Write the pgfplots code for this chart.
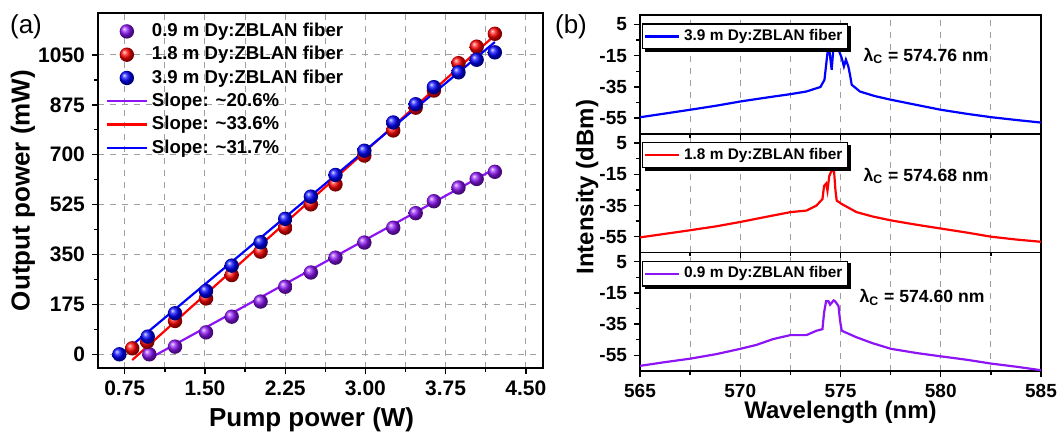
\documentclass[border=0pt]{standalone}
\usepackage{fontspec}
\setmainfont{Liberation Sans}
\usepackage{pgfplots}
\pgfplotsset{compat=1.18}
\definecolor{dypurple}{RGB}{140,20,245}

\begin{document}
\begin{tikzpicture}
\useasboundingbox (0,0) rectangle (529.5pt,217pt);
\pgfplotsset{
  every axis/.append style={
    scale only axis,
    axis line style={line width=0.8pt},
    tick style={line width=0.7pt, black},
    tick align=outside, tick pos=left,
    major tick length=3pt, minor tick length=2pt,
    /pgf/number format/assume math mode=true,
    /pgf/number format/1000 sep={},
  },
  lg/.style={legend image code/.code={
    \draw[mark repeat=2,mark phase=2,##1] plot coordinates {(0pt,0pt) (10pt,0pt) (20pt,0pt)};}},
  bm/.style={only marks, mark=ball, mark size=3.6pt, ball color=#1, mark options={draw opacity=0}},
}

% (a) output power vs pump power
\begin{axis}[
  at={(49pt,33pt)}, anchor=south west,
  width=222.5pt, height=177.5pt,
  xmin=0.5, xmax=4.66, ymin=-48, ymax=1197,
  xtick={0.75,1.5,2.25,3,3.75,4.5}, minor x tick num=1,
  ytick={0,175,350,525,700,875,1050}, minor y tick num=1,
  xticklabel style={/pgf/number format/fixed, /pgf/number format/fixed zerofill, /pgf/number format/precision=2},
  yticklabel style={/pgf/number format/fixed},
  tick label style={font=\fontsize{10.5}{12}\selectfont\bfseries},
  xminorgrids, xmajorgrids, ymajorgrids,
  grid style={dashed, gray!75, line width=0.5pt},
  minor grid style={dashed, gray!75, line width=0.5pt},
  xlabel={Pump power (W)}, ylabel={Output power (mW)},
  label style={font=\fontsize{13}{15}\selectfont\bfseries},
  xlabel style={at={(axis description cs:0.48,-0.146)}, anchor=center},
  ylabel style={at={(axis description cs:-0.169,0.5)}, anchor=center},
  lg,
  legend cell align=left,
  legend style={at={(axis description cs:0.003,0.995)}, anchor=north west,
    draw=none, fill=none, font=\fontsize{9.3}{11}\selectfont\bfseries,
    row sep=-0.6pt},
]
\addplot[bm=dypurple] coordinates {
 (0.98,0) (1.22,27) (1.51,77) (1.75,132) (2.02,185) (2.25,237) (2.49,287)
 (2.72,339) (2.99,392) (3.26,444) (3.47,495) (3.64,537) (3.87,585) (4.04,615) (4.21,640)};
\addlegendentry{0.9 m Dy:ZBLAN fiber}
\addplot[bm=red] coordinates {
 (0.82,21) (0.96,44) (1.22,117) (1.51,196) (1.75,278) (2.02,360) (2.25,444)
 (2.49,526) (2.72,596) (2.99,697) (3.26,785) (3.47,865) (3.64,925) (3.87,1021) (4.04,1079) (4.21,1124)};
\addlegendentry{1.8 m Dy:ZBLAN fiber}
\addplot[bm=blue] coordinates {
 (0.70,0) (0.965,62) (1.22,144) (1.51,222) (1.75,311) (2.02,393) (2.25,475)
 (2.49,553) (2.72,629) (2.99,714) (3.26,813) (3.47,877) (3.64,937) (3.87,989) (4.04,1033) (4.21,1059)};
\addlegendentry{3.9 m Dy:ZBLAN fiber}
\addplot[dypurple, line width=1.1pt] coordinates {(0.95,-21) (4.21,651)};
\addlegendentry{Slope: \textasciitilde 20.6\%}
\addplot[red, line width=1.1pt] coordinates {(0.82,-20) (4.21,1119)};
\addlegendentry{Slope: \textasciitilde 33.6\%}
\addplot[blue, line width=1.1pt] coordinates {(0.70,-5) (4.21,1095)};
\addlegendentry{Slope: \textasciitilde 31.7\%}
\end{axis}

% (b) spectra
\pgfplotsset{
  spec/.style={
    width=200.5pt, height=59.3pt,
    xmin=565, xmax=585, ymin=-65, ymax=11,
    xtick={565,570,575,580,585}, minor x tick num=1,
    ytick={5,-15,-35,-55}, minor y tick num=1,
    xmajorgrids, xminorgrids,
    grid style={dashed, gray!75, line width=0.5pt},
    minor grid style={dashed, gray!75, line width=0.5pt},
    tick label style={font=\fontsize{9.5}{11}\selectfont\bfseries},
    label style={font=\fontsize{12}{14}\selectfont\bfseries},
    legend image code/.code={\draw[##1] (0pt,0pt) -- (17pt,0pt);},
    legend style={at={(axis description cs:0.005,0.93)}, anchor=north west,
      draw=black, line width=0.7pt, fill=white, inner sep=0.6pt,
      font=\fontsize{7.7}{9}\selectfont\bfseries, name=#1},
  },
}
\newcommand\legshadow[1]{%
  \draw[line width=1.3pt, black] ([shift={(1.4pt,-0.65pt)}]#1.south west) -- ([shift={(0.65pt,-0.65pt)}]#1.south east) -- ([shift={(0.65pt,-1.4pt)}]#1.north east);}

\begin{axis}[spec=legC, at={(320pt,31.5pt)}, anchor=south west,
  xlabel={Wavelength (nm)},
  xlabel style={at={(axis description cs:0.5,-0.345)}, anchor=center}]
\addplot[dypurple, line width=1.1pt] coordinates {
 (565,-61.7) (566.2,-59.4) (567.5,-57.1) (568.8,-54.2) (570,-50.8) (570.8,-48.3) (571.65,-44.5)
 (572.5,-42) (573.3,-42) (573.8,-39.2) (574.1,-38.2) (574.18,-27.6) (574.28,-20.3)
 (574.4,-20.3) (574.48,-22.5) (574.56,-21.3) (574.65,-19.8) (574.73,-20.3) (574.9,-23.4)
 (574.98,-32.9) (575.06,-39.2) (575.8,-43.4) (576.6,-47.2) (577.52,-50.8) (578.8,-53.5)
 (580,-55.6) (581.3,-57.8) (582.54,-60.3) (583.8,-62.3) (585,-64.5)};
\addlegendentry{0.9 m Dy:ZBLAN fiber}
\node[anchor=west, font=\fontsize{8.8}{10}\selectfont\bfseries] at (axis cs:575.6,-18) {λ\textsubscript{C} = 574.60 nm};
\end{axis}
\legshadow{legC}

\begin{axis}[spec=legB, at={(320pt,90.8pt)}, anchor=south west, xticklabels=\empty,
  ylabel={Intensity (dBm)},
  ylabel style={at={(axis description cs:-0.132,0.55)}, anchor=center}]
\addplot[red, line width=1.1pt] coordinates {
 (565,-55.4) (566.2,-53.2) (567.5,-50.8) (568.8,-48.3) (570,-45.5) (571.3,-42.2) (572.5,-39.2)
 (573.3,-38.2) (573.8,-35) (574.1,-30.8) (574.18,-22.4) (574.28,-20.9) (574.35,-25.5)
 (574.44,-16) (574.56,-12.5) (574.68,-13.3) (574.75,-25.5) (574.81,-31.8) (575.06,-34)
 (575.8,-39.2) (576.6,-42) (577.52,-44.5) (578.8,-47.3) (580,-49.7) (581.3,-52.3)
 (582.54,-55) (583.8,-56.8) (585,-58.2)};
\addlegendentry{1.8 m Dy:ZBLAN fiber}
\node[anchor=west, font=\fontsize{8.8}{10}\selectfont\bfseries] at (axis cs:575.8,-16) {λ\textsubscript{C} = 574.68 nm};
\end{axis}
\legshadow{legB}

\begin{axis}[spec=legA, at={(320pt,150.1pt)}, anchor=south west, xticklabels=\empty]
\addplot[blue, line width=1.1pt] coordinates {
 (565,-54.4) (566.2,-52.1) (567.5,-49.6) (568.8,-47) (570,-44.3) (571.3,-41.8) (572.5,-39.6)
 (573.3,-37.9) (574,-35) (574.2,-30.4) (574.35,-13.2) (574.44,-11) (574.56,-24)
 (574.64,-11) (574.78,-9.6) (574.9,-11) (575.06,-16.4) (575.17,-21.8) (575.27,-17.5)
 (575.39,-21.8) (575.47,-27) (575.56,-33.6) (575.97,-37.9) (576.7,-40.8) (577.52,-43.2)
 (578.8,-46.5) (580,-49.6) (581.3,-52.2) (582.54,-54.4) (583.8,-56.2) (585,-57.8)};
\addlegendentry{3.9 m Dy:ZBLAN fiber}
\node[anchor=west, font=\fontsize{8.8}{10}\selectfont\bfseries] at (axis cs:575.8,-15) {λ\textsubscript{C} = 574.76 nm};
\end{axis}
\legshadow{legA}

\node[font=\fontsize{13}{15}\selectfont] at (13pt,203.5pt) {(a)};
\node[font=\fontsize{13}{15}\selectfont] at (285.5pt,203.5pt) {(b)};
\end{tikzpicture}
\end{document}
